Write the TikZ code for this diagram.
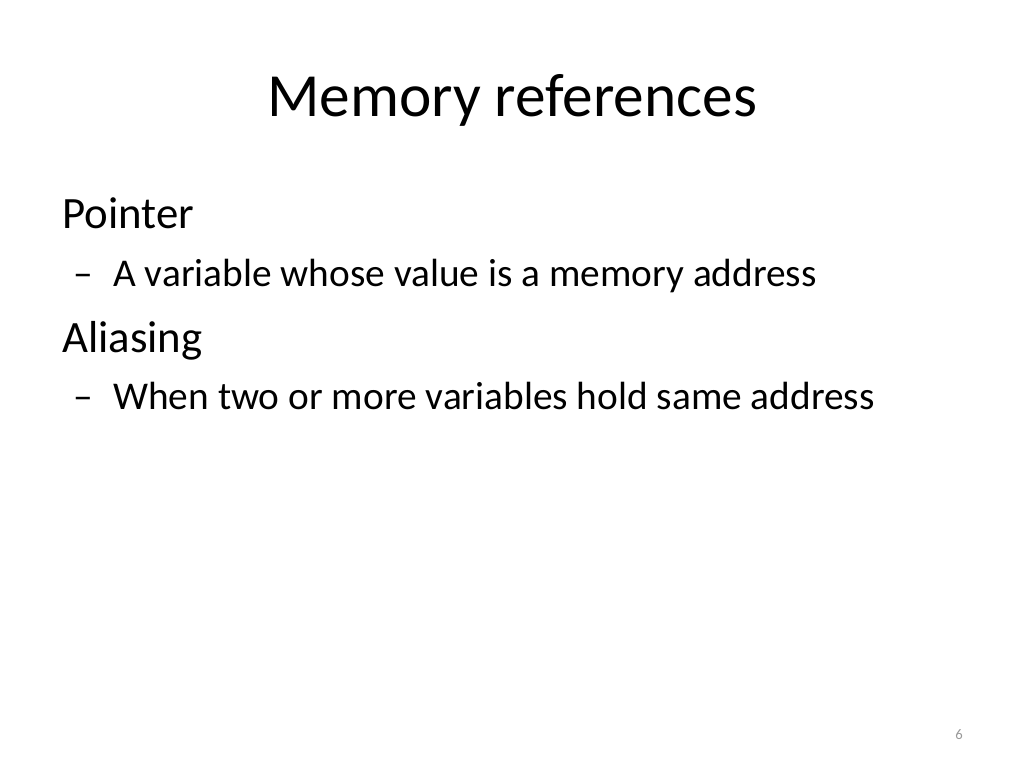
\documentclass[tikz,border=0pt]{standalone}
\usepackage{fontspec}
\setmainfont{Carlito}
\tikzset{
  txt/.style={anchor=base west, inner sep=0pt},
  lvlone/.style={txt, font=\fontsize{33.6}{40}\selectfont},
  lvltwo/.style={txt, font=\fontsize{29.5}{35}\selectfont}
}
\begin{document}
\begin{tikzpicture}[x=0.75pt, y=-0.75pt]
\useasboundingbox[fill=white] (0,0) rectangle (1024,768);
\node[anchor=base, inner sep=0pt, font=\fontsize{46}{54}\selectfont] (title) at (512,116) {Memory references};
\node[lvlone] (pointer) at (62,228) {Pointer};
\node[lvltwo] (dashone) at (73,286) {\textendash};
\node[lvltwo] (ptrdef) at (113,286) {A variable whose value is a memory address};
\node[lvlone] (alias) at (62,352) {Aliasing};
\node[lvltwo] (dashtwo) at (73,409) {\textendash};
\node[lvltwo] (aliasdef) at (113,409) {When two or more variables hold same address};
\node[anchor=base east, inner sep=0pt, font=\fontsize{11}{13}\selectfont, gray!80] (page) at (963,739) {6};
\end{tikzpicture}
\end{document}
